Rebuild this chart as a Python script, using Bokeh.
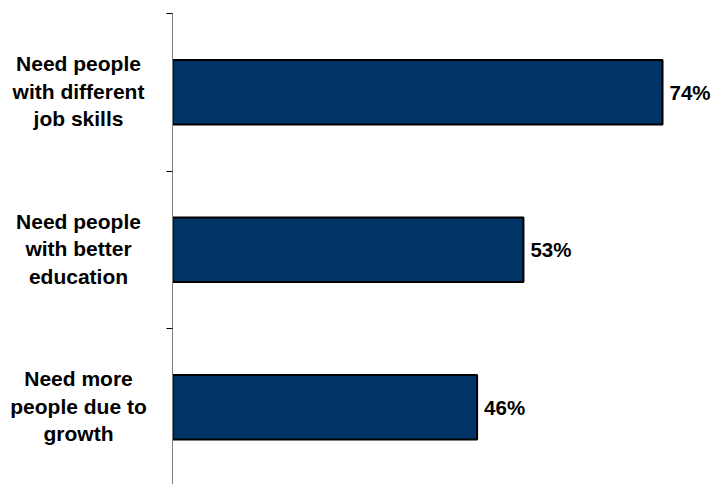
from bokeh.plotting import figure
from bokeh.layouts import row
from bokeh.models import Range1d, FixedTicker, ColumnDataSource
from bokeh.core.properties import value
from bokeh.embed import file_html
from bokeh.resources import INLINE

categories = [
    "Need people\nwith different\njob skills",
    "Need people\nwith better\neducation",
    "Need more\npeople due to\ngrowth",
]
values = [74, 53, 46]
value_labels = ["74%", "53%", "46%"]

FONT = "Liberation Sans"
BAR_COLOR = "#003366"

positions = [i + 0.5 for i in range(len(categories))]
y_range = Range1d(2.99, 0)

# left panel for the category labels
left = figure(
    width=166, height=484,
    x_range=Range1d(0, 166), y_range=y_range,
    output_backend="svg", toolbar_location=None,
    min_border_left=0, min_border_right=0,
    min_border_top=13, min_border_bottom=0,
    x_axis_type=None, y_axis_type=None,
)
left.outline_line_color = None
left.xgrid.visible = False
left.ygrid.visible = False

line_step = 27.5 / 157.5
lx, ly, lt = [], [], []
for pos, cat in zip(positions, categories):
    lines = cat.split("\n")
    n = len(lines)
    for k, line in enumerate(lines):
        lx.append(78)
        ly.append(pos + (k - (n - 1) / 2) * line_step - 0.006)
        lt.append(line)
left.text(x=lx, y=ly, text=lt, text_align="center", text_baseline="middle",
          text_font=value(FONT), text_font_style="bold",
          text_font_size="21px", text_color="#000000")

p = figure(
    width=546, height=484,
    x_range=Range1d(0, 81.55), y_range=y_range,
    output_backend="svg", toolbar_location=None,
    min_border_left=6, min_border_right=0,
    min_border_top=13, min_border_bottom=0,
    x_axis_type=None,
)
p.outline_line_color = None
p.xgrid.visible = False
p.ygrid.visible = False

yax = p.yaxis[0]
yax.ticker = FixedTicker(ticks=[0, 1, 2, 3])
yax.major_label_overrides = {0: "", 1: "", 2: "", 3: ""}
yax.major_label_standoff = 0
yax.axis_line_color = "#808080"
yax.axis_line_width = 1
yax.major_tick_line_color = "#000000"
yax.major_tick_out = 6
yax.major_tick_in = 0
yax.minor_tick_line_color = None

src = ColumnDataSource(dict(y=positions, v=values, lab=value_labels))
p.hbar(y="y", left=0, right="v", height=0.41, source=src,
       fill_color=BAR_COLOR, line_color="#000000", line_width=2)
p.text(x="v", y="y", text="lab", source=src, x_offset=7,
       text_baseline="middle", text_align="left",
       text_font=value(FONT), text_font_style="bold",
       text_font_size="20.5px", text_color="#000000")

layout = row(left, p, spacing=0)
open("out.html", "w").write(file_html(layout, INLINE))
